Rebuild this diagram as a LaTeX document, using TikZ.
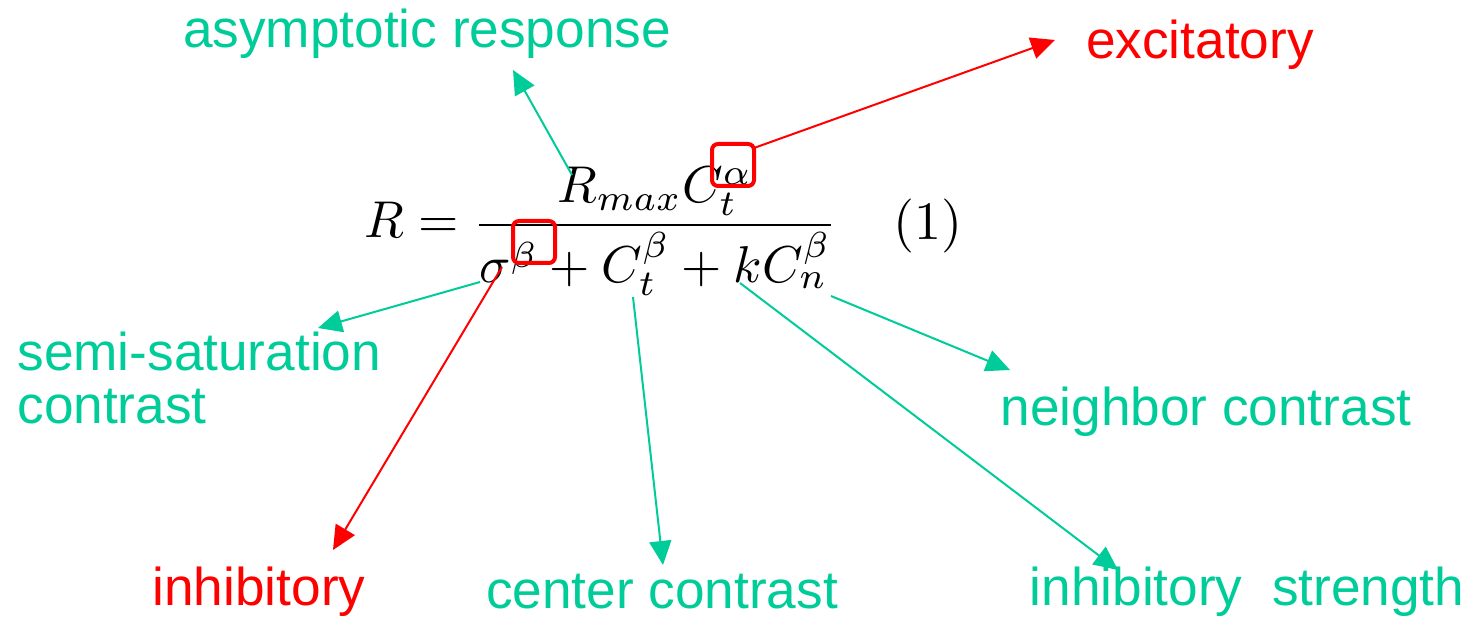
\documentclass[tikz,border=0pt]{standalone}
\usepackage[no-math]{fontspec}
\newfontfamily\arialf{Liberation Sans}
\usetikzlibrary{arrows.meta}
\definecolor{tgreen}{RGB}{0,204,153}
\definecolor{tred}{RGB}{255,0,0}
\tikzset{
  lbl/.style={font=\arialf\fontsize{26.6}{26.6}\selectfont, inner sep=0pt},
  glbl/.style={lbl, text=tgreen},
  rlbl/.style={lbl, text=tred},
  garrow/.style={draw=tgreen, line width=1pt, -{Triangle[length=12pt,width=11pt]}},
  rarrow/.style={draw=tred, line width=1pt, -{Triangle[length=12pt,width=11pt]}},
  hbox/.style={draw=tred, line width=2pt, rounded corners=3pt, inner sep=0pt, minimum width=21pt, minimum height=21pt}
}
\begin{document}
\begin{tikzpicture}[x=0.5pt,y=-0.5pt]
\useasboundingbox (0,0) rectangle (1471,619);
% equation
\node[scale=2.59, anchor=base west, inner sep=0pt] (eq) at (363,238)
  {$\displaystyle R=\frac{R_{max}C_t^{\alpha}}{\sigma^{\beta}+C_t^{\beta}+kC_n^{\beta}}$};
\node[scale=2.7, anchor=base west, inner sep=0pt] (num) at (892,240) {$(1)$};
% highlight boxes
\node[hbox] (ba) at (733,165) {};
\node[hbox] (bb) at (534,242) {};
% labels
\node[glbl] (asym) at (427,34) {asymptotic response};
\node[rlbl] (exc) at (1200,45) {excitatory};
\node[glbl, align=left, anchor=west] (semi) at (17,378) {semi-saturation\\contrast};
\node[glbl] (nbr) at (1206,412) {neighbor contrast};
\node[rlbl] (inh) at (259,592) {inhibitory};
\node[glbl] (ctr) at (662,592) {center contrast};
\node[glbl] (str) at (1247,592) {inhibitory\ \ strength};
% connector end points
\coordinate (sA) at (572,175);  \coordinate (tA) at (513,70);
\coordinate (tE) at (1055,40);
\coordinate (sS) at (480,282);  \coordinate (tS) at (318,328);
\coordinate (tI) at (333,550);
\coordinate (sC) at (633,297);  \coordinate (tC) at (663,565);
\coordinate (sN) at (831,296);  \coordinate (tN) at (1010,370);
\coordinate (sK) at (740,283);  \coordinate (tK) at (1118,570);
% connectors
\draw[garrow] (sA) -- (tA);
\draw[rarrow] (ba.north east) ++(-2,6) coordinate (sE) -- (tE);
\draw[garrow] (sS) -- (tS);
\draw[rarrow] (bb.south west) ++(-9,2) coordinate (sI) -- (tI);
\draw[garrow] (sC) -- (tC);
\draw[garrow] (sN) -- (tN);
\draw[garrow] (sK) -- (tK);
\end{tikzpicture}
\end{document}
